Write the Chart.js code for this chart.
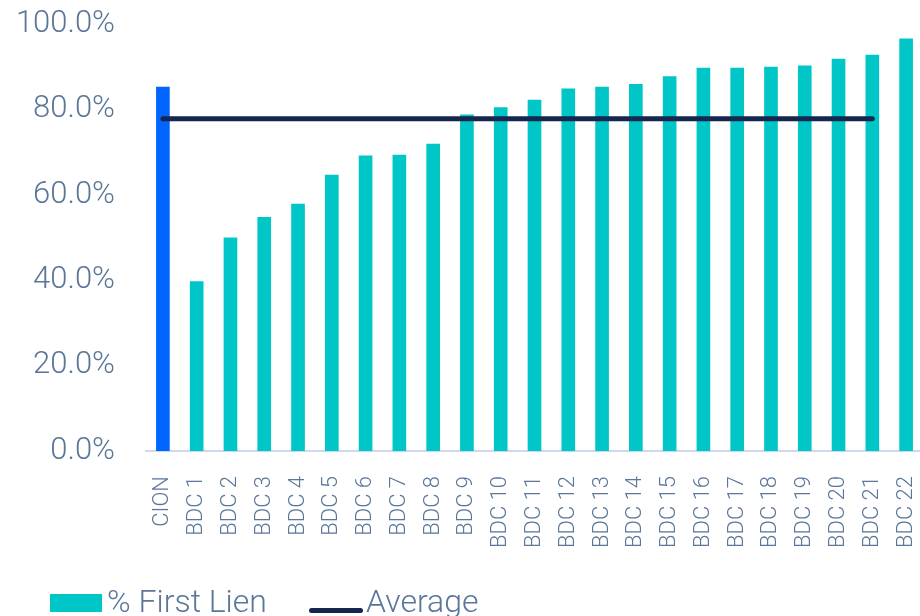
<!DOCTYPE html>
<html>
<head>
<meta charset="utf-8">
<script src="https://cdn.jsdelivr.net/npm/chart.js@4/dist/chart.umd.min.js"></script>
<style>
  html, body { margin: 0; padding: 0; background: #fff; overflow: hidden; }
  #wrap { position: relative; width: 923px; height: 616px; }
  #legend {
    position: absolute; left: 0; top: 0; width: 920px; height: 616px;
    pointer-events: none;
    font-family: Roboto, sans-serif; font-weight: 300; font-size: 32px;
    color: #5a7698;
  }
  #legend .item { position: absolute; top: 585px; line-height: 32px; white-space: nowrap; }
  #legend .swatch { position: absolute; }
</style>
</head>
<body>
<div id="wrap">
  <canvas id="myChart" width="923" height="616"></canvas>
  <div id="legend"></div>
</div>
<script>
let categories = ["CION", "BDC 1", "BDC 2", "BDC 3", "BDC 4", "BDC 5", "BDC 6", "BDC 7", "BDC 8",
    "BDC 9", "BDC 10", "BDC 11", "BDC 12", "BDC 13", "BDC 14", "BDC 15", "BDC 16", "BDC 17",
    "BDC 18", "BDC 19", "BDC 20", "BDC 21", "BDC 22"];
let firstLien = [85.2, 39.7, 49.9, 54.7, 57.8, 64.6, 69.1, 69.3, 71.9, 78.7, 80.4, 82.2,
    84.8, 85.2, 85.9, 87.7, 89.7, 89.7, 89.9, 90.2, 91.8, 92.7, 96.5];
// average line runs from CION through BDC 21
let average = [77.8, 77.8, 77.8, 77.8, 77.8, 77.8, 77.8, 77.8, 77.8, 77.8, 77.8, 77.8,
    77.8, 77.8, 77.8, 77.8, 77.8, 77.8, 77.8, 77.8, 77.8, 77.8, null];
let yTicks = [0, 20, 40, 60, 80, 100];

const teal = "#00c6c8";
const blue = "#0066ff";
const navy = "#15264f";
const labelColor = "#5a7698";

let ctx = document.getElementById("myChart").getContext("2d");
let lienChart = new Chart(ctx, {
    type: "bar",
    data: {
        labels: categories,
        datasets: [{
            type: "bar",
            label: "% First Lien",
            data: firstLien,
            backgroundColor: categories.map(c => c === "CION" ? blue : teal),
            legendColor: teal,
            barThickness: 13,
            order: 1
        }, {
            type: "line",
            label: "Average",
            data: average,
            borderColor: navy,
            borderWidth: 5,
            borderCapStyle: "round",
            pointRadius: 0,
            fill: false,
            spanGaps: false,
            order: 0
        }]
    },
    options: {
        responsive: false,
        animation: false,
        layout: { padding: { top: 24, left: 0, right: 0, bottom: 0 } },
        plugins: {
            legend: { display: false },
            tooltip: { enabled: false }
        },
        scales: {
            y: {
                min: 0,
                max: 100,
                afterFit: function(scale) {
                    scale.width = 146;
                    scale.paddingTop = 0;
                    scale.paddingBottom = 0;
                },
                afterBuildTicks: function(scale) {
                    scale.ticks = yTicks.map(v => ({ value: v }));
                },
                grid: { display: false, drawTicks: false },
                border: { display: false },
                ticks: {
                    padding: 31,
                    color: labelColor,
                    font: { family: "Roboto", weight: "300", size: 31 },
                    callback: function(value) {
                        return value.toFixed(1) + "%";
                    }
                }
            },
            x: {
                afterFit: function(scale) {
                    scale.height = 616 - 451;
                    scale.paddingLeft = 0;
                    scale.paddingRight = 0;
                },
                grid: { display: false, drawTicks: false },
                border: { display: true, color: "#cfd8f0", width: 2 },
                ticks: {
                    padding: 25,
                    minRotation: 90,
                    maxRotation: 90,
                    autoSkip: false,
                    color: labelColor,
                    font: { family: "Roboto", weight: "300", size: 22 }
                }
            }
        }
    }
});

// legend row under the axis labels
let legendEl = document.getElementById("legend");
let legendItems = [
    { ds: lienChart.data.datasets[0], x: 50, w: 52, kind: "box" },
    { ds: lienChart.data.datasets[1], x: 309, w: 54, kind: "line" }
];
legendItems.forEach(function(it) {
    let sw = document.createElement("div");
    sw.className = "swatch";
    if (it.kind === "box") {
        sw.style.cssText = "left:" + it.x + "px;top:594px;width:" + it.w + "px;height:18px;background:" + it.ds.legendColor;
    } else {
        sw.style.cssText = "left:" + it.x + "px;top:608px;width:" + it.w + "px;height:5px;border-radius:3px;background:" + it.ds.borderColor;
    }
    legendEl.appendChild(sw);
    let tx = document.createElement("div");
    tx.className = "item";
    tx.style.left = (it.x + it.w + (it.kind === "box" ? 5 : 3)) + "px";
    tx.textContent = it.ds.label;
    legendEl.appendChild(tx);
});
</script>
</body>
</html>
